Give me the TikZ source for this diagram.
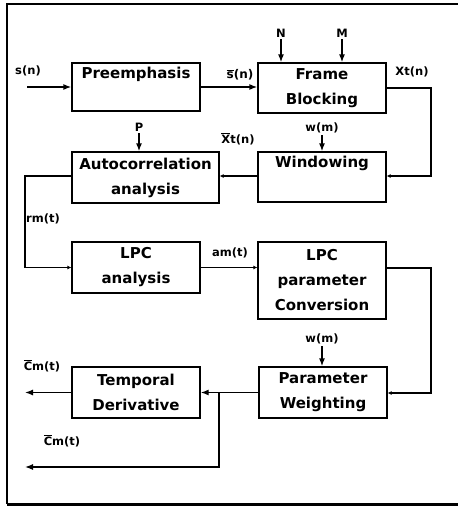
\documentclass[tikz,border=0pt]{standalone}
\usepackage{fontspec}
\setmainfont{DejaVu Sans}
\usetikzlibrary{arrows.meta}
\newcommand\barred[1]{\leavevmode\vbox{\hrule height 0.9pt\kern0.8pt\hbox{#1}}}
\begin{document}
\begin{tikzpicture}[x=1pt,y=-1pt,
  blk/.style={draw,line width=1.3pt,rectangle,align=center,inner sep=0pt,
    font=\fontsize{15}{25}\selectfont\bfseries},
  lbl/.style={inner sep=0pt,font=\fontsize{11.5}{13}\selectfont\bfseries},
  con/.style={line width=1.3pt},
  arr/.style={con,-{Latex[length=8pt,width=6pt]}},
  sarr/.style={con,-{Latex[length=4pt,width=4pt]}}]
\useasboundingbox (0,0) rectangle (458,507);
% frame
\draw[line width=2pt] (458,4) -- (7,4) -- (7,504);
\draw[line width=3pt] (7,504) -- (458,504);
% blocks
\node[blk,minimum width=128pt,minimum height=48pt] (pre) at (136,87) {\raisebox{-5pt}{Preemphasis}\\\strut};
\node[blk,minimum width=128pt,minimum height=50pt] (fb) at (322,88) {Frame\\Blocking};
\node[blk,minimum width=147pt,minimum height=51pt] (ac) at (145.5,177.5) {Autocorrelation\\analysis};
\node[blk,minimum width=128pt,minimum height=50pt] (win) at (322,177) {\raisebox{-3pt}{Windowing}\\\strut};
\node[blk,minimum width=128pt,minimum height=51pt] (lpc) at (136,267.5) {LPC\\analysis};
\node[blk,minimum width=128pt,minimum height=77pt] (conv) at (322,280.5) {LPC\\parameter\\Conversion};
\node[blk,minimum width=128pt,minimum height=51pt] (td) at (136,392.5) {Temporal\\Derivative};
\node[blk,minimum width=128pt,minimum height=51pt] (pw) at (323,392.5) {Parameter\\Weighting};
% labels
\node[lbl] (sn) at (28,71) {s(n)};
\node[lbl,font=\fontsize{12}{13}\selectfont\bfseries] (sbar) at (240,75) {\barred{s}(n)};
\node[lbl] (N) at (281,33) {N};
\node[lbl] (M) at (342,33) {M};
\node[lbl] (xt) at (412,72) {Xt(n)};
\node[lbl] (P) at (139,127) {P};
\node[lbl] (xbar) at (238,139) {\barred{X}t(n)};
\node[lbl] (w1) at (322,128) {w(m)};
\node[lbl] (rm) at (43,219) {rm(t)};
\node[lbl] (am) at (230,253) {am(t)};
\node[lbl] (w2) at (322,339) {w(m)};
\node[lbl] (c1) at (42,366) {\barred{C}m(t)};
\node[lbl] (c2) at (62,441) {\barred{C}m(t)};
% coordinates
\coordinate (in) at (27,87);
\coordinate (o1) at (25,392.5);
\coordinate (o2) at (25,467);
\coordinate (br) at (219,392.5);
% connectors
\draw[arr] (in) -- (pre.west);
\draw[arr] (pre.east) -- (fb.west |- pre.east);
\draw[arr] (N.south) ++(0,2) -- (fb.north -| N);
\draw[arr] (M.south) ++(0,2) -- (fb.north -| M);
\draw[sarr] (fb.east) -- (431,88) -- (431,176) -- (win.east |- 0,176);
\draw[sarr] (win.west |- 0,176) -- (ac.east |- 0,176);
\draw[arr] (P.south) ++(0,2) -- (ac.north -| P);
\draw[arr] (w1.south) ++(0,2) -- (win.north -| w1);
\draw[sarr] (ac.west |- 0,176) -- (25,176) -- (25,267.5) -- (lpc.west);
\draw[sarr] (lpc.east) -- (conv.west |- lpc.east);
\draw[sarr] (conv.east |- 0,268) -- (431,268) -- (431,393) -- (pw.east |- 0,393);
\draw[arr] (w2.south) ++(0,2) -- (pw.north -| w2);
\draw[arr] (pw.west) -- (td.east);
\draw[arr] (td.west) -- (o1);
\draw[arr] (br) -- (219,467) -- (o2);
\end{tikzpicture}
\end{document}
